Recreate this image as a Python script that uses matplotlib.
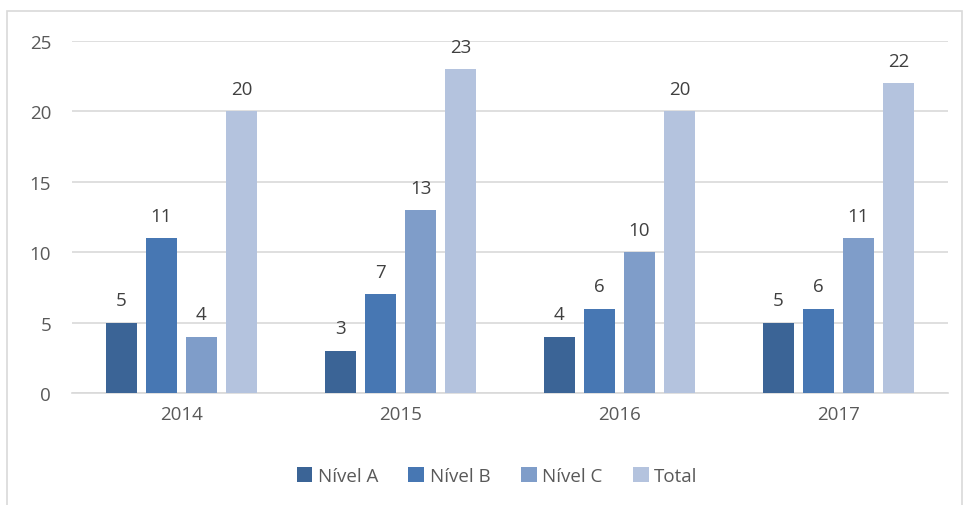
import matplotlib
matplotlib.use("Agg")
import matplotlib.pyplot as plt
import numpy as np
from matplotlib.patches import Rectangle

years = ["2014", "2015", "2016", "2017"]
series_names = ["Nível A", "Nível B", "Nível C", "Total"]
nivel_a = [5, 3, 4, 5]
nivel_b = [11, 7, 6, 6]
nivel_c = [4, 13, 10, 11]
total = [20, 23, 20, 22]
yticks = [0, 5, 10, 15, 20, 25]

colors = ["#3B6496", "#4777B3", "#7F9DC9", "#B4C3DE"]
text_color = "#595959"
label_color = "#404040"

plt.rcParams['font.family'] = ['Open Sans', 'DejaVu Sans']

fig = plt.figure(figsize=(9.65, 5.06), dpi=100)
W, H = 965, 506
ax = fig.add_axes([72 / W, 1 - 394 / H, (948 - 72) / W, (394 - 42) / H])

# outer chart border
fig.patches.append(Rectangle((7 / W, -0.05), (962 - 7) / W, 1 - 12 / H + 0.05,
                             transform=fig.transFigure, fill=False,
                             edgecolor="#D9D9D9", linewidth=1.2))

x = np.arange(len(years))
bw = 31 / 219
step = 40 / 219
data = [nivel_a, nivel_b, nivel_c, total]
for i, (vals, name, c) in enumerate(zip(data, series_names, colors)):
    pos = x + (i - 1.5) * step
    ax.bar(pos, vals, width=bw, color=c, label=name, zorder=3)
    for p, v in zip(pos, vals):
        ax.text(p, v + 0.95, str(v), ha="center", va="bottom",
                fontsize=13.5, color=label_color)

ax.set_xlim(-0.5, len(years) - 0.5)
ax.set_ylim(0, 25)
ax.set_yticks(yticks)
ax.set_xticks(x)
ax.set_xticklabels(years)
ax.grid(axis="y", color="#D9D9D9", linewidth=1.2, zorder=0)
for s in ["top", "right", "left"]:
    ax.spines[s].set_visible(False)
ax.spines["bottom"].set_color("#D9D9D9")
ax.spines["bottom"].set_linewidth(1.2)
ax.tick_params(axis="both", length=0, labelsize=13.5, colors=text_color)
ax.tick_params(axis="y", pad=15)
ax.tick_params(axis="x", pad=9)

leg = fig.legend(loc="center", bbox_to_anchor=(497 / W, 1 - 477 / H), ncol=4,
                 frameon=False, fontsize=13.5, handlelength=0.85, handleheight=0.85,
                 handletextpad=0.3, columnspacing=1.6)
for t in leg.get_texts():
    t.set_color(text_color)

fig.savefig("out.png", dpi=100)
